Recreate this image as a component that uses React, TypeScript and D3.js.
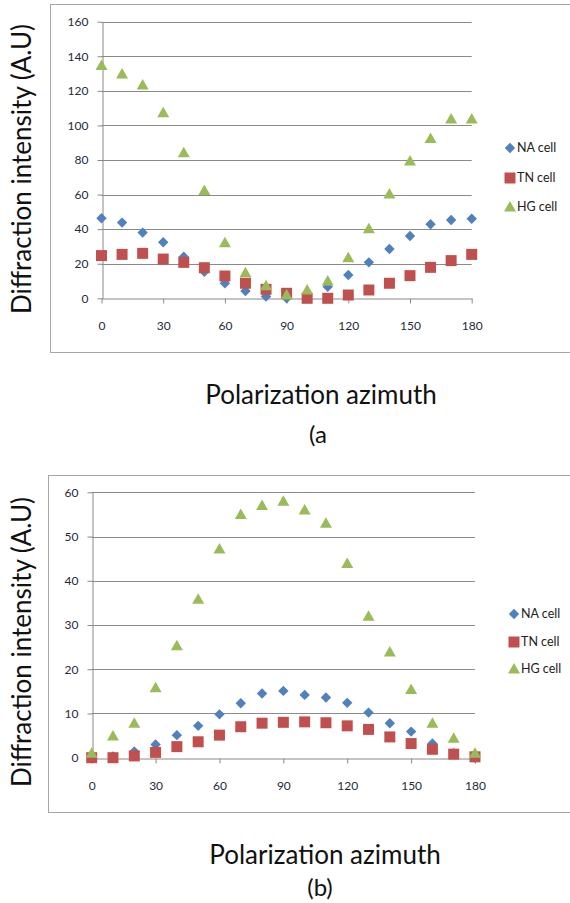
import React, { useEffect, useRef } from "react";
import * as d3 from "d3";

// polarization azimuth (deg)
const azimuth = [0, 10, 20, 30, 40, 50, 60, 70, 80, 90, 100, 110, 120, 130, 140, 150, 160, 170, 180];
const xTicks = [0, 30, 60, 90, 120, 150, 180];

// panel (a)
const naA = [46.3, 43.8, 38, 32.4, 24, 15.4, 8.7, 4.2, 1, 0, 0, 6.7, 13.5, 20.8, 28.5, 36, 42.8, 45.3, 46];
const tnA = [24.7, 25.4, 26, 22.7, 20.8, 17.7, 12.9, 8.7, 5.2, 2.9, 0, 0, 1.9, 4.8, 8.7, 13.1, 17.9, 21.8, 25.4];
const hgA = [134.6, 129.7, 123.4, 107.4, 84.2, 62.3, 32.2, 14.8, 7.3, 1.9, 4.8, 10, 23.5, 40.3, 60.3, 79.4, 92.5, 103.7, 103.7];
const yTicksA = [0, 20, 40, 60, 80, 100, 120, 140, 160];

// panel (b)
const naB = [0.5, 0.3, 1.4, 3, 5.1, 7.2, 9.8, 12.3, 14.5, 15.1, 14.2, 13.6, 12.4, 10.2, 7.8, 5.9, 3.2, 1, 0];
const tnB = [0, 0, 0.4, 1.2, 2.5, 3.6, 5.1, 7, 7.8, 8, 8.1, 7.9, 7.2, 6.4, 4.7, 3.2, 1.9, 0.8, 0.2];
const hgB = [1, 4.9, 7.8, 15.8, 25.3, 35.8, 47.2, 55, 57, 58, 56, 53, 43.9, 32, 23.9, 15.4, 7.8, 4.4, 1];
const yTicksB = [0, 10, 20, 30, 40, 50, 60];

const seriesNames = ["NA cell", "TN cell", "HG cell"];
const colors = ["#4F81BD", "#C0504D", "#9BBB59"];
const shapes = ["diamond", "square", "triangle"];

const FONT = "Lato, 'Open Sans', sans-serif";

function markerPath(shape, cx, cy) {
  if (shape === "diamond") {
    const r = 5.2;
    return `M${cx},${cy - r}L${cx + r},${cy}L${cx},${cy + r}L${cx - r},${cy}Z`;
  }
  if (shape === "square") {
    const r = 5.5;
    return `M${cx - r},${cy - r}h${2 * r}v${2 * r}h${-2 * r}Z`;
  }
  return `M${cx},${cy - 6}L${cx + 6},${cy + 4.5}L${cx - 6},${cy + 4.5}Z`;
}

function drawPanel(g, cfg) {
  const x = d3.scaleLinear().domain([0, 180]).range([cfg.x0, cfg.x1]);
  const y = d3.scaleLinear().domain([0, cfg.yMax]).range([cfg.y0, cfg.y1]);

  // chart frame
  g.append("rect")
    .attr("x", cfg.box[0] + 0.5)
    .attr("y", cfg.box[1] + 0.5)
    .attr("width", 600)
    .attr("height", cfg.box[2] - cfg.box[1])
    .attr("fill", "white")
    .attr("stroke", "#a6a6a6")
    .attr("stroke-width", 1);

  // gridlines
  g.append("g")
    .selectAll("line")
    .data(cfg.yTicks.filter((d) => d > 0))
    .join("line")
    .attr("x1", x(0))
    .attr("x2", x(180))
    .attr("y1", (d) => Math.round(y(d)) + 0.5)
    .attr("y2", (d) => Math.round(y(d)) + 0.5)
    .attr("stroke", "#8a8a8a");

  const yAxis = g
    .append("g")
    .attr("transform", `translate(${Math.round(x(0)) + 0.5},0)`)
    .call(d3.axisLeft(y).tickValues(cfg.yTicks).tickSizeInner(5).tickSizeOuter(0).tickPadding(9));
  const xAxis = g
    .append("g")
    .attr("transform", `translate(0,${Math.round(y(0)) + 0.5})`)
    .call(d3.axisBottom(x).tickValues(xTicks).tickSizeInner(5).tickSizeOuter(0).tickPadding(18));

  [yAxis, xAxis].forEach((a) => {
    a.select(".domain").attr("stroke", "#8a8a8a");
    a.selectAll(".tick line").attr("stroke", "#8a8a8a");
    a.selectAll(".tick text").attr("fill", "#1f2a3a").style("font-family", FONT).style("font-size", "12px");
  });

  // series points
  const all = [cfg.na, cfg.tn, cfg.hg];
  all.forEach((vals, i) => {
    g.append("g")
      .selectAll("path")
      .data(vals)
      .join("path")
      .attr("d", (d, j) => markerPath(shapes[i], x(azimuth[j]), y(d)))
      .attr("fill", colors[i]);
  });

  // legend
  const leg = g.append("g");
  seriesNames.forEach((name, i) => {
    const ly = cfg.legY[i];
    leg.append("path").attr("d", markerPath(shapes[i], cfg.legX, ly)).attr("fill", colors[i]);
    leg
      .append("text")
      .attr("x", cfg.legX + 7)
      .attr("y", ly)
      .attr("dy", "0.35em")
      .style("font-family", FONT)
      .style("font-size", "12.5px")
      .attr("fill", "#222")
      .text(name);
  });

  // axis titles
  g.append("text")
    .attr("transform", `translate(${cfg.yTitle[0]},${cfg.yTitle[1]}) rotate(-90)`)
    .attr("text-anchor", "middle")
    .attr("dy", "0.35em")
    .style("font-family", FONT)
    .style("font-size", "26px")
    .attr("fill", "#111")
    .text("Diffraction intensity (A.U)");

  g.append("text")
    .attr("x", cfg.xTitle[0])
    .attr("y", cfg.xTitle[1])
    .attr("text-anchor", "middle")
    .attr("dy", "0.35em")
    .style("font-family", FONT)
    .style("font-size", "26px")
    .attr("fill", "#111")
    .text("Polarization azimuth");

  g.append("text")
    .attr("x", cfg.caption[0])
    .attr("y", cfg.caption[1])
    .attr("text-anchor", "middle")
    .attr("dy", "0.35em")
    .style("font-family", FONT)
    .style("font-size", "24px")
    .attr("fill", "#111")
    .text(cfg.label);
}

export default function App() {
  const ref = useRef(null);

  useEffect(() => {
    const svg = d3.select(ref.current);
    svg.selectAll("*").remove();

    drawPanel(svg.append("g"), {
      box: [50, 4, 352],
      x0: 101.5,
      x1: 471.7,
      y0: 298.3,
      y1: 21.7,
      yMax: 160,
      yTicks: yTicksA,
      na: naA,
      tn: tnA,
      hg: hgA,
      legX: 510,
      legY: [148, 178, 207],
      yTitle: [22, 169],
      xTitle: [321, 395],
      caption: [318, 435],
      label: "(a",
    });

    drawPanel(svg.append("g"), {
      box: [48, 475, 812],
      x0: 91.7,
      x1: 475,
      y0: 757.7,
      y1: 492.3,
      yMax: 60,
      yTicks: yTicksB,
      na: naB,
      tn: tnB,
      hg: hgB,
      legX: 514,
      legY: [614, 642, 669],
      yTitle: [22, 642],
      xTitle: [325, 855],
      caption: [320, 888],
      label: "(b)",
    });
  }, []);

  return (
    <svg
      ref={ref}
      width={570}
      height={903}
      style={{ position: "absolute", left: 0, top: 0, display: "block", background: "white" }}
    />
  );
}
